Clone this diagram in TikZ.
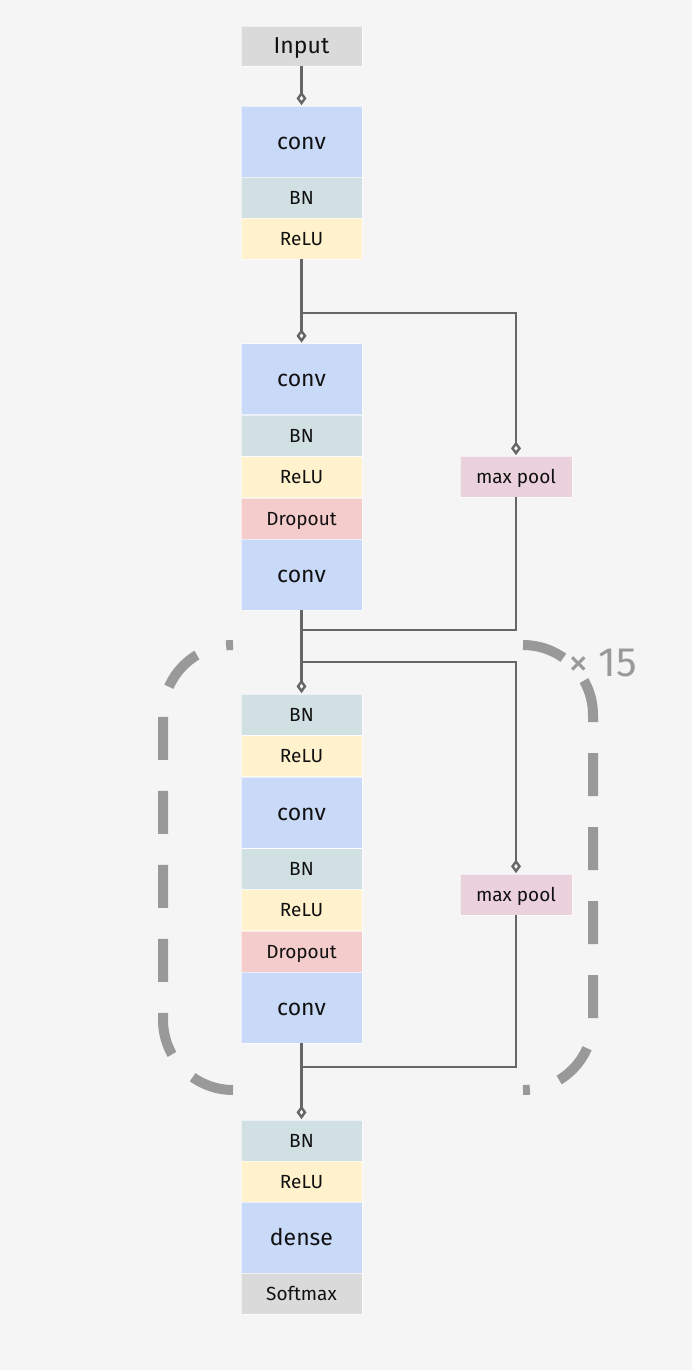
\documentclass[tikz,border=0pt]{standalone}
\usepackage{fontspec}
\setmainfont{Fira Sans}
\usetikzlibrary{arrows.meta}
\definecolor{bg}{HTML}{F5F5F5}
\definecolor{grayb}{HTML}{DADADA}
\definecolor{blueb}{HTML}{C9DAF8}
\definecolor{bnb}{HTML}{D0E0E3}
\definecolor{relub}{HTML}{FFF2CC}
\definecolor{dropb}{HTML}{F4CCCC}
\definecolor{poolb}{HTML}{EAD1DC}
\definecolor{lc}{HTML}{666666}
\definecolor{dashc}{HTML}{999999}
\definecolor{txt}{HTML}{111111}
\newcommand{\bigf}{\fontsize{23}{27}\selectfont}
\newcommand{\smallf}{\fontsize{19}{23}\selectfont}
\begin{document}
\begin{tikzpicture}[x=1pt,y=-1pt,
  layer/.style={draw=white, draw opacity=0.6, line width=0.8pt, minimum width=121pt, inner sep=0pt, text=txt, anchor=center, text depth=0pt},
  bigtext/.style={font=\bigf, text height=15.8pt},
  smalltext/.style={font=\smallf, text height=13.1pt},
  biglayer/.style={layer, minimum height=71pt, fill=blueb, bigtext},
  bnlayer/.style={layer, minimum height=41pt, fill=bnb, smalltext},
  relulayer/.style={layer, minimum height=41pt, fill=relub, smalltext},
  droplayer/.style={layer, minimum height=41pt, fill=dropb, smalltext},
  poollayer/.style={layer, minimum width=112pt, minimum height=41pt, fill=poolb, smalltext},
  conn/.style={draw=lc, line width=2.5pt},
  arr/.style={-{Diamond[open,length=13.5pt,width=10pt,line width=2.4pt]}, shorten >=0.5pt},
  bracket/.style={draw=dashc, line width=10pt, rounded corners=70pt, dash pattern=on 43pt off 31pt}
]
\fill[bg] (0,0) rectangle (692,1370);
\useasboundingbox (0,0) rectangle (692,1370);

% column 1
\node[layer, minimum height=40pt, fill=grayb, bigtext] (input) at (301.5,46) {Input};
\node[biglayer] (conv1) at (301.5,141.5) {conv};
\node[bnlayer] (bn1) at (301.5,197.5) {BN};
\node[relulayer] (relu1) at (301.5,238.5) {ReLU};

\node[biglayer] (conv2) at (301.5,379) {conv};
\node[bnlayer] (bn2) at (301.5,435.5) {BN};
\node[relulayer] (relu2) at (301.5,477) {ReLU};
\node[droplayer] (drop2) at (301.5,518.5) {Dropout};
\node[biglayer] (conv3) at (301.5,574.5) {conv};

\node[bnlayer] (bn3) at (301.5,714.5) {BN};
\node[relulayer] (relu3) at (301.5,756) {ReLU};
\node[biglayer] (conv4) at (301.5,812.5) {conv};
\node[bnlayer] (bn4) at (301.5,869) {BN};
\node[relulayer] (relu4) at (301.5,910) {ReLU};
\node[droplayer] (drop4) at (301.5,951.5) {Dropout};
\node[biglayer] (conv5) at (301.5,1007.5) {conv};

\node[bnlayer] (bn5) at (301.5,1140.5) {BN};
\node[relulayer] (relu5) at (301.5,1181.5) {ReLU};
\node[biglayer] (dense) at (301.5,1237.5) {dense};
\node[layer, minimum height=41pt, fill=grayb, smalltext] (softmax) at (301.5,1293.5) {Softmax};

\node[poollayer] (pool1) at (516,476.5) {max pool};
\node[poollayer] (pool2) at (516,894.5) {max pool};

% junctions
\coordinate (j1) at (301.5,313);
\coordinate (j2) at (301.5,630);
\coordinate (j3) at (301.5,662);
\coordinate (j4) at (301.5,1067);

% connectors
\draw[conn,arr] (input.south) -- (conv1.north);
\draw[conn,arr] (relu1.south) -- (conv2.north);
\draw[conn,arr] (j1) -| (pool1.north);
\draw[conn] (pool1.south) |- (j2);
\draw[conn,arr] (conv3.south) -- (bn3.north);
\draw[conn,arr] (j3) -| (pool2.north);
\draw[conn] (pool2.south) |- (j4);
\draw[conn,arr] (conv5.south) -- (bn5.north);

% repeat brackets
\draw[bracket] (233,1090) -- (163,1090) -- (163,645) -- (233,645);
\draw[bracket] (523,645) -- (593,645) -- (593,1090) -- (523,1090);
\node[anchor=west, text=dashc, font=\fontsize{41}{44}\selectfont, inner sep=0pt] (times) at (568,663) {×\hspace{0.25em}15};
\end{tikzpicture}
\end{document}
